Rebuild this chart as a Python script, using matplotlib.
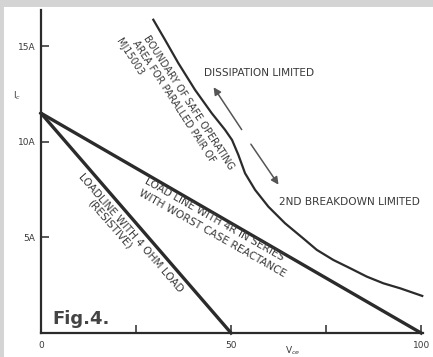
import matplotlib.pyplot as plt
from matplotlib.patches import Rectangle

# boundary of safe operating area (dissipation limited, then 2nd breakdown)
soa_v = [29.55, 32.63, 36.13, 40.53, 44.92, 48.42, 50.26, 51.92, 53.68, 56.32, 59.82,
         64.21, 69.47, 72.55, 76.92, 81.32, 85.71, 90.08, 94.47, 100.3]
soa_i = [16.39, 15.34, 14.12, 12.72, 11.50, 10.63, 10.10, 9.32, 8.36, 7.49, 6.61,
         5.74, 4.87, 4.35, 3.82, 3.39, 2.95, 2.60, 2.34, 1.94]

# load lines
resistive_v = [0, 50]
resistive_i = [11.5, 0]
reactive_v = [0, 100]
reactive_i = [11.5, 0]

x_ticks = [0, 25, 50, 75, 100]
x_labels = ['0', '', '50', '', '100']
y_ticks = [5, 10, 15]
y_labels = ['5A', '10A', '15A']

ink = '#2b2b2b'
txt = '#3a3a3a'

fig = plt.figure(figsize=(4.33, 3.57), dpi=100)
fig.patch.set_facecolor('white')
# scanned page edges
fig.patches.append(Rectangle((0, 1 - 7 / 357), 1, 7 / 357, transform=fig.transFigure,
                             facecolor='#d4d4d4', edgecolor='none', zorder=0))
fig.patches.append(Rectangle((0, 0), 4 / 433, 1, transform=fig.transFigure,
                             facecolor='#d4d4d4', edgecolor='none', zorder=0))

ax = fig.add_axes([41 / 433, 24 / 357, 382 / 433, 323 / 357])
ax.set_xlim(0, 100.5)
ax.set_ylim(0, 16.9)
ax.set_facecolor('none')

for s in ['top', 'right']:
    ax.spines[s].set_visible(False)
for s in ['left', 'bottom']:
    ax.spines[s].set_color(ink)
    ax.spines[s].set_linewidth(1.6)

ax.set_xticks(x_ticks)
ax.set_xticklabels(x_labels)
ax.set_yticks(y_ticks)
ax.set_yticklabels(y_labels)
ax.tick_params(direction='in', length=6, width=1.1, color=ink, labelsize=6.5,
               labelcolor=txt)
ax.tick_params(axis='x', pad=6)
ax.tick_params(axis='y', pad=4)

ax.plot(soa_v, soa_i, color=ink, lw=1.6, solid_joinstyle='round', clip_on=False)
ax.plot(resistive_v, resistive_i, color=ink, lw=2.4, clip_on=False)
ax.plot(reactive_v, reactive_i, color=ink, lw=2.4, clip_on=False)

fs = 7.6
kw = dict(color=txt, fontsize=fs, ha='center', va='center', rotation_mode='anchor',
          clip_on=False)
kwb = dict(kw, fontsize=7.0)
ax.text(38.75, 12.08, 'BOUNDARY OF SAFE OPERATING', rotation=-57, **kwb)
ax.text(34.9, 12.08, 'AREA FOR PARALLED PAIR OF', rotation=-57, **kwb)
ax.text(23.3, 14.42, 'MJ15003', rotation=-57, **kwb)

ax.text(42.9, 13.6, 'DISSIPATION LIMITED', color=txt, fontsize=fs, ha='left', va='center')
ax.text(62.6, 6.86, '2ND BREAKDOWN LIMITED', color=txt, fontsize=fs, ha='left', va='center')

ax.text(45.5, 5.95, 'LOAD LINE WITH 4R IN SERIES', rotation=-29.5, **kw)
ax.text(45.0, 5.2, 'WITH WORST CASE REACTANCE', rotation=-29.5, **kw)

ax.text(23.5, 5.22, 'LOADLINE WITH 4 OHM LOAD', rotation=-49, **kw)
ax.text(18.0, 5.66, '(RESISTIVE)', rotation=-49, **kw)

# direction arrows
arr = dict(arrowstyle='-|>', color='#555555', lw=1.1, mutation_scale=11)
ax.annotate('', xy=(45.0, 12.98), xytext=(53.2, 10.52), arrowprops=arr)
ax.annotate('', xy=(62.9, 7.64), xytext=(54.8, 10.0), arrowprops=arr)

ax.text(-6.3, 12.4, 'I$_c$', color=txt, fontsize=6.5, ha='center', va='center', clip_on=False)
ax.text(66.3, -0.95, 'V$_{ce}$', color=txt, fontsize=6.5, ha='center', va='center',
        clip_on=False)

ax.text(3.0, 0.45, 'Fig.4.', color='#444444', fontsize=13, fontweight='bold',
        ha='left', va='baseline')

fig.savefig('out.png', dpi=100)
